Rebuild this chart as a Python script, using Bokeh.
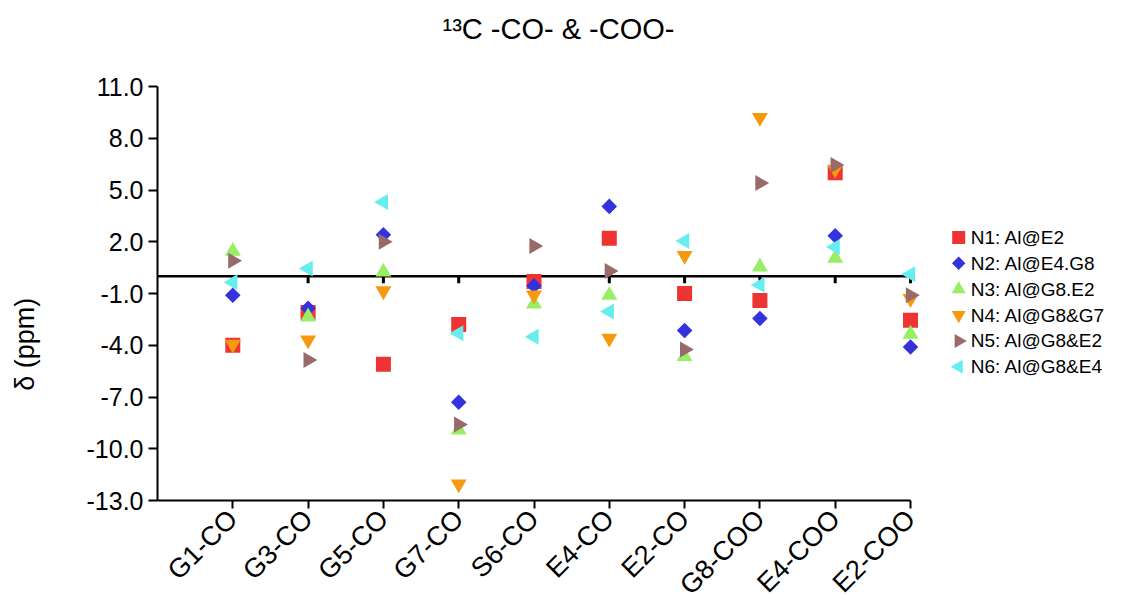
import numpy as np
from bokeh.plotting import figure
from bokeh.models import Range1d, FixedTicker, PrintfTickFormatter, Label
from bokeh.core.properties import value
from bokeh.embed import file_html
from bokeh.resources import INLINE

# ---- data ----
categories = ["G1-CO", "G3-CO", "G5-CO", "G7-CO", "S6-CO",
              "E4-CO", "E2-CO", "G8-COO", "E4-COO", "E2-COO"]
series_names = ["N1: Al@E2", "N2: Al@E4.G8", "N3: Al@G8.E2",
                "N4: Al@G8&G7", "N5: Al@G8&E2", "N6: Al@G8&E4"]
N1 = [-4.0, -2.1, -5.1, -2.8, -0.3, 2.2, -1.0, -1.4, 6.0, -2.55]
N2 = [-1.1, -1.85, 2.4, -7.3, -0.55, 4.05, -3.15, -2.45, 2.35, -4.1]
N3 = [1.45, -2.35, 0.25, -8.9, -1.6, -1.1, -4.65, 0.55, 1.05, -3.35]
N4 = [-3.95, -3.7, -0.85, -12.05, -1.1, -3.6, 1.2, 9.2, 6.2, -1.3]
N5 = [0.9, -4.85, 2.0, -8.6, 1.75, 0.3, -4.25, 5.4, 6.45, -1.1]
N6 = [-0.35, 0.45, 4.3, -3.3, -3.5, -2.05, 2.05, -0.5, 1.7, 0.12]
y_ticks = [-13, -10, -7, -4, -1, 2, 5, 8, 11]
title_text = "¹³C -CO- & -COO-"
y_label = "δ (ppm)"

# ---- styles ----
colors = ["#ee3333", "#3333dd", "#99ee66", "#f59a10", "#9a6a6a", "#66eeee"]
markers = ["square", "square", "triangle", "inverted_triangle", "triangle", "triangle"]
angles = [0, np.pi / 4, 0, 0, -np.pi / 2, np.pi / 2]
sizes = [15, 11, 16, 16, 16, 16]
leg_sizes = [13, 9.5, 14, 14, 14, 14]
all_series = [N1, N2, N3, N4, N5, N6]
FONT = "Liberation Sans"

n = len(categories)
xpos = list(range(1, n + 1))
y_lo, y_hi = y_ticks[0], y_ticks[-1]

# layout: frame spans the whole canvas width right of the y axis and the
# full height above the x axis; axes are limited with bounds.
LEFT, TOP_PAD, BOTTOM = 157, 86, 114
PX_PER_X = 75.3
frame_w = 1125 - LEFT
frame_h = 614 - BOTTOM
x_end = frame_w / PX_PER_X
px_per_y = (frame_h - TOP_PAD) / (y_hi - y_lo)
y_end = y_hi + TOP_PAD / px_per_y

p = figure(width=1125, height=614, output_backend="svg", toolbar_location=None,
           x_range=Range1d(0, x_end), y_range=Range1d(y_lo, y_end),
           min_border_left=LEFT, min_border_right=0, min_border_top=0,
           min_border_bottom=BOTTOM)
p.outline_line_color = None
p.xgrid.visible = False
p.ygrid.visible = False
p.background_fill_color = "white"
p.border_fill_color = "white"

# title
p.add_layout(Label(x=401, y=frame_h - 28, x_units="screen", y_units="screen",
                   text=title_text, text_align="center", text_baseline="middle",
                   text_font=FONT, text_font_size="29px", text_color="black"))

# zero line across the categories, with small ticks below it
p.line(x=[0, n], y=[0, 0], line_color="black", line_width=2.5)
p.segment(x0=xpos, y0=[0] * n, x1=xpos, y1=[-0.4] * n,
          line_color="black", line_width=3)

for ys, c, m, a, s in zip(all_series, colors, markers, angles, sizes):
    p.scatter(x=xpos, y=ys, marker=m, angle=a, size=s,
              fill_color=c, line_color=None)

# legend (drawn as glyphs so the rotated markers show correctly)
leg_x = 10.64
leg_text_x = 10.80
leg_y0 = 2.25
leg_dy = 1.5
for i, (name, c, m, a, s) in enumerate(zip(series_names, colors, markers, angles, leg_sizes)):
    yy = leg_y0 - i * leg_dy
    p.scatter(x=[leg_x], y=[yy], marker=m, angle=a, size=s,
              fill_color=c, line_color=None)
    p.text(x=[leg_text_x], y=[yy], text=[name], text_font=value(FONT),
           text_font_size="19px", text_baseline="middle", text_align="left",
           text_color="black")

# axes
xa = p.xaxis[0]
xa.bounds = (0, n)
xa.ticker = FixedTicker(ticks=xpos)
xa.major_label_overrides = {i: c for i, c in zip(xpos, categories)}
xa.major_label_orientation = np.pi / 4
xa.major_label_text_font = FONT
xa.major_label_text_font_size = "27px"
xa.major_label_text_color = "black"
xa.major_label_standoff = 6
xa.minor_tick_line_color = None
xa.major_tick_in = 0
xa.major_tick_out = 8
xa.major_tick_line_width = 2
xa.axis_line_width = 2
xa.axis_line_color = "black"
xa.major_tick_line_color = "black"

ya = p.yaxis[0]
ya.bounds = (y_lo, y_hi)
ya.ticker = FixedTicker(ticks=y_ticks)
ya.formatter = PrintfTickFormatter(format="%.1f")
ya.major_label_text_font = FONT
ya.major_label_text_font_size = "25px"
ya.major_label_text_color = "black"
ya.major_label_standoff = 5
ya.minor_tick_line_color = None
ya.major_tick_in = 0
ya.major_tick_out = 9
ya.major_tick_line_width = 2
ya.axis_line_width = 2
ya.axis_line_color = "black"
ya.major_tick_line_color = "black"
# trailing no-break spaces shift the visible label down to the reference spot
ya.axis_label = y_label + "\u00a0" * 25
ya.axis_label_text_font = FONT
ya.axis_label_text_font_size = "27px"
ya.axis_label_text_font_style = "normal"
ya.axis_label_text_color = "black"
ya.axis_label_standoff = 44

open("out.html", "w").write(file_html(p, INLINE))
